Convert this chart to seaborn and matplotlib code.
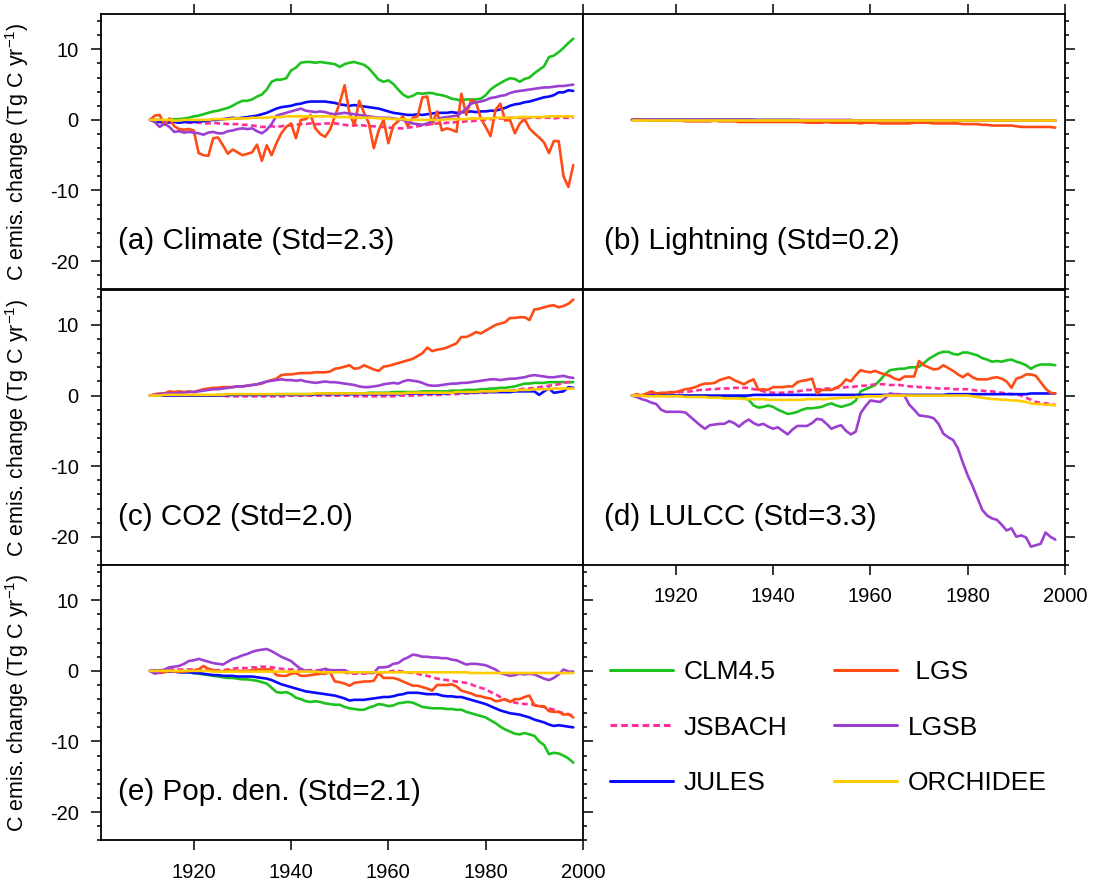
import numpy as np
import pandas as pd
import seaborn as sns
import matplotlib.pyplot as plt
from matplotlib.lines import Line2D
from matplotlib.ticker import MultipleLocator, NullLocator

# fire carbon emission change per driver, 1911-1998 (Tg C / yr)
years = list(range(1911, 1999))

models = ['CLM4.5', 'JSBACH', 'JULES', 'LGS', 'LGSB', 'ORCHIDEE']
legend_labels = ['CLM4.5', 'JSBACH', 'JULES', ' LGS', 'LGSB', 'ORCHIDEE']
colors = ['#1ec21e', '#ff2d9b', '#0a0aff', '#ff4b14', '#9c40d2', '#ffcc00']

titles = ['(a) Climate (Std=2.3)', '(b) Lightning (Std=0.2)', '(c) CO2 (Std=2.0)',
          '(d) LULCC (Std=3.3)', '(e) Pop. den. (Std=2.1)']

xticks = [1920, 1940, 1960, 1980, 2000]
yticks = [-20, -10, 0, 10]

# ---- (a) climate
clm_a = [0.0, 0.0, 0.0, -0.1, 0.0, 0.1, 0.1, 0.2, 0.3, 0.5,
         0.6, 0.8, 1.0, 1.2, 1.3, 1.5, 1.7, 2.0, 2.4, 2.7,
         2.7, 2.9, 3.3, 3.6, 4.3, 5.4, 5.7, 5.7, 5.9, 7.0,
         7.4, 8.1, 8.2, 8.2, 8.1, 8.2, 8.1, 8.0, 7.9, 7.5,
         7.9, 8.1, 8.2, 8.0, 7.8, 7.3, 6.5, 5.7, 5.4, 5.6,
         5.1, 4.3, 3.6, 3.2, 3.4, 3.8, 3.7, 3.8, 3.8, 3.6,
         3.5, 3.3, 3.0, 2.9, 2.7, 2.9, 2.9, 2.9, 3.0, 3.5,
         4.3, 4.8, 5.2, 5.6, 5.9, 5.8, 5.4, 5.8, 6.0, 6.6,
         7.1, 7.6, 8.9, 9.1, 9.6, 10.2, 10.9, 11.5]
jsbach_a = [0.0, -0.1, -0.2, -0.3, -0.4, -0.4, -0.4, -0.3, -0.4, -0.4,
            -0.4, -0.5, -0.5, -0.4, -0.5, -0.5, -0.6, -0.6, -0.6, -0.7,
            -0.7, -0.8, -0.9, -1.0, -1.0, -0.9, -1.0, -0.9, -0.8, -0.8,
            -0.7, -0.6, -0.6, -0.5, -0.6, -0.6, -0.5, -0.5, -0.5, -0.6,
            -0.7, -0.8, -0.8, -0.7, -0.8, -0.9, -0.9, -1.0, -1.0, -1.1,
            -1.1, -1.2, -1.2, -1.1, -1.0, -0.9, -0.8, -0.7, -0.6, -0.5,
            -0.5, -0.4, -0.4, -0.3, -0.3, -0.2, -0.2, -0.1, 0.0, 0.0,
            0.1, 0.1, 0.2, 0.2, 0.3, 0.3, 0.3, 0.2, 0.3, 0.3,
            0.3, 0.3, 0.3, 0.2, 0.3, 0.3, 0.3, 0.3]
jules_a = [0.0, -0.2, -0.3, -0.4, -0.3, -0.3, -0.4, -0.3, -0.3, -0.3,
           -0.2, -0.2, -0.1, 0.0, 0.0, 0.1, 0.2, 0.3, 0.2, 0.3,
           0.4, 0.5, 0.6, 0.8, 1.0, 1.3, 1.6, 1.8, 1.9, 2.0,
           2.2, 2.3, 2.5, 2.6, 2.6, 2.6, 2.6, 2.5, 2.4, 2.2,
           2.1, 2.0, 2.1, 2.0, 1.9, 1.8, 1.7, 1.6, 1.4, 1.2,
           1.0, 0.9, 0.8, 0.7, 0.7, 0.8, 0.7, 0.8, 0.9, 1.0,
           1.0, 1.0, 1.1, 1.0, 1.1, 1.1, 1.2, 1.1, 1.2, 1.2,
           1.3, 1.3, 1.5, 1.7, 2.0, 2.2, 2.3, 2.5, 2.6, 2.8,
           3.0, 3.2, 3.3, 3.5, 3.9, 3.9, 4.2, 4.1]
lgs_a = [0.0, 0.6, 0.7, -0.7, 0.2, -0.9, -1.3, -1.4, -1.3, -1.5,
         -4.7, -5.0, -5.1, -2.6, -2.5, -3.6, -4.8, -4.2, -4.6, -5.0,
         -4.8, -4.6, -3.5, -5.8, -3.6, -5.0, -3.3, -1.9, -1.0, -0.5,
         -2.6, 0.0, 0.1, 0.7, -1.2, -2.0, -2.4, -1.4, 0.5, 2.4,
         4.9, 1.0, -0.8, 2.7, 1.0, -0.5, -4.0, -1.5, 0.0, -3.3,
         -0.8, -0.2, 0.5, -0.9, 0.3, 0.5, 3.2, 3.3, -0.6, 1.2,
         -1.5, -1.2, -1.4, -1.7, 3.7, 0.7, 2.8, 2.5, 0.2, -1.0,
         -2.3, 1.4, 2.3, -0.1, 0.0, -1.9, -0.5, 0.1, -1.2, -1.9,
         -2.5, -3.2, -4.7, -3.0, -3.0, -8.0, -9.5, -6.4]
lgsb_a = [0.0, -0.3, -1.0, -0.5, -1.0, -1.7, -1.6, -1.8, -1.7, -1.8,
          -1.9, -2.1, -1.8, -1.7, -1.9, -1.9, -1.6, -1.5, -1.3, -1.2,
          -1.3, -1.2, -1.6, -1.9, -1.4, -0.6, 0.6, 0.8, 1.0, 1.2,
          1.4, 1.6, 1.3, 1.2, 1.1, 1.2, 1.1, 0.9, 0.8, 0.9,
          1.0, 0.9, 0.8, 0.7, 0.6, 0.5, 0.4, 0.3, 0.3, 0.3,
          0.2, 0.1, 0.0, -0.3, -0.5, -0.6, -0.7, -0.5, -0.2, 0.1,
          0.3, 0.4, 0.5, 0.6, 1.0, 1.6, 2.3, 2.5, 2.6, 2.8,
          3.1, 3.2, 3.4, 3.5, 3.8, 4.0, 4.1, 4.2, 4.3, 4.4,
          4.5, 4.6, 4.6, 4.7, 4.8, 4.8, 4.9, 5.0]
orch_a = [0.0, 0.0, 0.0, 0.0, 0.0, -0.1, -0.1, 0.0, 0.0, 0.0,
          0.0, 0.0, 0.0, 0.1, 0.1, 0.1, 0.1, 0.2, 0.2, 0.2,
          0.2, 0.3, 0.3, 0.3, 0.3, 0.4, 0.4, 0.4, 0.5, 0.5,
          0.5, 0.5, 0.5, 0.5, 0.5, 0.5, 0.5, 0.5, 0.4, 0.4,
          0.4, 0.4, 0.3, 0.3, 0.3, 0.3, 0.3, 0.2, 0.2, 0.2,
          0.1, 0.1, 0.1, 0.0, 0.0, 0.0, 0.0, 0.0, 0.0, 0.0,
          0.0, 0.1, 0.1, 0.1, 0.1, 0.1, 0.2, 0.2, 0.2, 0.2,
          0.2, 0.3, 0.3, 0.3, 0.3, 0.3, 0.4, 0.4, 0.4, 0.4,
          0.4, 0.4, 0.5, 0.5, 0.5, 0.5, 0.5, 0.5]

# ---- (b) lightning
clm_b = [0.0, 0.0, 0.0, 0.0, 0.0, 0.0, 0.0, 0.0, 0.0, 0.0,
         0.0, 0.0, 0.0, 0.0, 0.0, 0.0, 0.0, 0.0, 0.0, 0.0,
         0.0, 0.0, 0.0, 0.0, 0.0, 0.0, 0.0, 0.0, 0.0, 0.0,
         0.0, 0.0, 0.0, 0.0, 0.0, -0.1, -0.1, -0.1, -0.1, -0.1,
         -0.1, -0.1, -0.1, -0.1, -0.1, -0.1, -0.1, -0.1, -0.1, -0.1,
         -0.1, -0.1, -0.1, -0.1, -0.1, -0.1, -0.1, -0.1, -0.1, -0.1,
         -0.1, -0.1, -0.1, -0.1, -0.1, -0.1, -0.1, -0.1, -0.1, -0.1,
         -0.1, -0.1, -0.1, -0.1, -0.1, -0.1, -0.1, -0.1, -0.1, -0.1,
         -0.1, -0.1, -0.1, -0.1, -0.1, -0.1, -0.1, -0.1]
jsbach_b = [0.0, 0.0, 0.0, 0.0, 0.0, 0.0, 0.0, 0.0, 0.0, 0.0,
            0.0, 0.0, 0.0, 0.0, 0.0, 0.0, 0.0, 0.0, 0.0, 0.0,
            0.0, 0.0, 0.0, 0.0, 0.0, -0.1, -0.1, -0.1, -0.1, -0.1,
            -0.1, -0.1, -0.1, -0.1, -0.1, -0.1, -0.1, -0.1, -0.1, -0.1,
            -0.1, -0.1, -0.1, -0.1, -0.1, -0.1, -0.1, -0.1, -0.1, -0.1,
            -0.1, -0.1, -0.1, -0.1, -0.1, -0.1, -0.1, -0.1, -0.1, -0.1,
            -0.1, -0.1, -0.1, -0.1, -0.1, -0.1, -0.1, -0.1, -0.1, -0.1,
            -0.1, -0.1, -0.1, -0.1, -0.1, -0.1, -0.1, -0.1, -0.1, -0.1,
            -0.1, -0.1, -0.1, -0.1, -0.1, -0.1, -0.1, -0.1]
jules_b = [0.0, 0.0, 0.0, 0.0, 0.0, 0.0, 0.0, 0.0, 0.0, 0.0,
           0.0, 0.0, 0.0, 0.0, 0.0, 0.0, 0.0, 0.0, 0.0, 0.0,
           0.0, 0.0, 0.0, 0.0, 0.0, 0.0, -0.1, -0.1, -0.1, -0.1,
           -0.1, -0.1, -0.1, -0.1, -0.1, -0.1, -0.1, -0.1, -0.1, -0.1,
           -0.1, -0.1, -0.1, -0.1, -0.1, -0.1, -0.1, -0.1, -0.1, -0.1,
           -0.1, -0.1, -0.1, -0.1, -0.1, -0.1, -0.1, -0.1, -0.1, -0.1,
           -0.1, -0.1, -0.1, -0.1, -0.1, -0.1, -0.1, -0.1, -0.1, -0.1,
           -0.1, -0.1, -0.1, -0.1, -0.1, -0.1, -0.1, -0.1, -0.1, -0.1,
           -0.1, -0.1, -0.1, -0.1, -0.1, -0.1, -0.1, -0.1]
lgs_b = [0.0, 0.0, 0.0, 0.0, -0.1, -0.1, -0.1, -0.1, -0.1, -0.1,
         -0.1, -0.2, -0.2, -0.2, -0.2, -0.2, -0.2, -0.1, -0.2, -0.2,
         -0.2, -0.2, -0.3, -0.3, -0.3, -0.3, -0.3, -0.3, -0.3, -0.3,
         -0.3, -0.3, -0.3, -0.3, -0.3, -0.3, -0.4, -0.4, -0.4, -0.4,
         -0.3, -0.4, -0.4, -0.4, -0.4, -0.4, -0.4, -0.5, -0.4, -0.4,
         -0.4, -0.5, -0.5, -0.5, -0.5, -0.5, -0.5, -0.5, -0.4, -0.4,
         -0.4, -0.4, -0.5, -0.5, -0.5, -0.5, -0.5, -0.5, -0.6, -0.6,
         -0.6, -0.6, -0.7, -0.7, -0.8, -0.8, -0.8, -0.8, -0.8, -0.9,
         -1.0, -1.0, -1.0, -1.0, -1.0, -1.0, -1.0, -1.1]
lgsb_b = [0.0, 0.0, 0.0, 0.0, 0.0, 0.0, 0.0, 0.0, 0.0, 0.0,
          0.0, 0.0, 0.0, 0.0, 0.0, 0.0, 0.0, 0.0, 0.0, 0.0,
          0.0, 0.0, 0.0, 0.0, 0.0, 0.0, 0.0, 0.0, 0.0, 0.0,
          0.0, 0.0, 0.0, 0.0, 0.0, 0.0, 0.0, 0.0, 0.0, 0.0,
          0.0, 0.0, 0.0, 0.0, 0.0, 0.0, -0.1, -0.1, -0.1, -0.1,
          -0.1, -0.1, -0.1, -0.1, -0.1, -0.1, -0.1, -0.1, -0.1, -0.1,
          -0.1, -0.1, -0.1, -0.1, -0.1, -0.1, -0.1, -0.1, -0.1, -0.1,
          -0.1, -0.1, -0.1, -0.1, -0.1, -0.1, -0.1, -0.1, -0.1, -0.1,
          -0.1, -0.1, -0.1, -0.1, -0.1, -0.1, -0.1, -0.1]
orch_b = [0.0, 0.0, 0.0, 0.0, 0.0, 0.0, 0.0, 0.0, 0.0, 0.0,
          0.0, 0.0, 0.0, 0.0, 0.0, 0.0, 0.0, 0.0, 0.0, 0.0,
          0.0, 0.0, 0.0, 0.0, 0.0, 0.0, 0.0, 0.0, 0.0, 0.0,
          0.0, 0.0, 0.0, 0.0, 0.0, 0.0, 0.0, 0.0, 0.0, 0.0,
          0.0, 0.0, 0.0, 0.0, 0.0, 0.0, 0.0, 0.0, 0.0, 0.0,
          0.0, 0.0, 0.0, 0.0, 0.0, 0.0, 0.0, 0.0, 0.0, 0.0,
          0.0, 0.0, 0.0, 0.0, 0.0, 0.0, 0.0, 0.0, 0.0, 0.0,
          0.0, 0.0, 0.0, 0.0, 0.0, 0.0, 0.0, 0.0, 0.0, 0.0,
          0.0, 0.0, 0.0, 0.0, 0.0, 0.0, 0.0, 0.0]

# ---- (c) CO2
clm_c = [0.0, 0.0, 0.0, 0.0, 0.0, 0.0, 0.0, 0.0, 0.0, 0.0,
         0.0, 0.0, 0.0, 0.0, 0.1, 0.1, 0.1, 0.1, 0.1, 0.1,
         0.1, 0.1, 0.1, 0.1, 0.1, 0.1, 0.2, 0.2, 0.2, 0.2,
         0.2, 0.2, 0.2, 0.2, 0.2, 0.2, 0.3, 0.3, 0.3, 0.3,
         0.3, 0.3, 0.3, 0.3, 0.3, 0.4, 0.4, 0.4, 0.4, 0.4,
         0.5, 0.5, 0.5, 0.5, 0.5, 0.5, 0.6, 0.6, 0.6, 0.6,
         0.6, 0.6, 0.7, 0.7, 0.7, 0.8, 0.8, 0.8, 0.9, 0.9,
         1.0, 1.0, 1.1, 1.1, 1.2, 1.3, 1.5, 1.7, 1.7, 1.8,
         1.8, 1.8, 1.9, 1.9, 1.9, 1.9, 1.9, 1.9]
jsbach_c = [0.0, 0.0, 0.0, 0.0, 0.0, 0.0, 0.0, 0.0, 0.0, 0.0,
            0.0, 0.0, 0.0, 0.0, 0.0, 0.0, -0.1, -0.1, -0.1, -0.1,
            -0.1, -0.1, -0.1, -0.1, -0.1, -0.1, -0.1, -0.1, -0.1, 0.0,
            0.0, 0.0, 0.0, 0.0, 0.0, 0.0, 0.0, 0.0, 0.0, 0.0,
            0.0, 0.0, -0.1, -0.1, -0.1, -0.1, -0.1, -0.1, -0.1, -0.1,
            -0.1, 0.0, 0.0, 0.0, 0.0, 0.0, 0.1, 0.1, 0.1, 0.1,
            0.1, 0.2, 0.2, 0.2, 0.3, 0.3, 0.3, 0.4, 0.4, 0.4,
            0.5, 0.5, 0.6, 0.6, 0.7, 0.8, 0.9, 1.0, 1.0, 1.1,
            1.2, 1.3, 1.4, 1.5, 1.6, 1.8, 1.9, 2.0]
jules_c = [0.0, 0.0, 0.0, 0.0, 0.0, 0.0, 0.0, 0.0, 0.0, 0.0,
           0.0, 0.0, 0.0, 0.0, 0.0, 0.0, 0.1, 0.1, 0.1, 0.1,
           0.1, 0.1, 0.1, 0.1, 0.1, 0.1, 0.1, 0.1, 0.1, 0.1,
           0.1, 0.1, 0.1, 0.1, 0.2, 0.2, 0.2, 0.2, 0.2, 0.2,
           0.2, 0.2, 0.2, 0.2, 0.2, 0.2, 0.2, 0.2, 0.2, 0.2,
           0.2, 0.2, 0.3, 0.3, 0.3, 0.3, 0.3, 0.3, 0.3, 0.3,
           0.3, 0.3, 0.4, 0.4, 0.4, 0.4, 0.4, 0.4, 0.5, 0.5,
           0.5, 0.5, 0.5, 0.5, 0.5, 0.6, 0.6, 0.6, 0.6, 0.6,
           0.1, 0.6, 1.0, 0.4, 0.5, 0.6, 1.2, 1.1]
lgs_c = [0.0, 0.2, 0.3, 0.3, 0.6, 0.5, 0.6, 0.5, 0.6, 0.5,
         0.7, 0.9, 1.0, 1.1, 1.1, 1.2, 1.2, 1.2, 1.3, 1.3,
         1.4, 1.5, 1.6, 1.7, 2.0, 2.2, 2.4, 2.9, 3.0, 3.0,
         3.1, 3.2, 3.2, 3.2, 3.3, 3.3, 3.3, 3.4, 3.8, 3.9,
         4.1, 4.3, 3.8, 3.9, 4.3, 4.0, 3.7, 3.5, 4.1, 4.2,
         4.4, 4.6, 4.8, 5.0, 5.2, 5.6, 6.0, 6.8, 6.3, 6.5,
         6.6, 6.8, 7.1, 7.4, 8.3, 8.3, 8.6, 9.0, 8.8, 9.2,
         9.6, 10.0, 10.2, 10.4, 11.0, 11.0, 11.1, 11.1, 10.7, 12.2,
         12.3, 12.5, 12.7, 12.8, 12.5, 12.7, 13.0, 13.6]
lgsb_c = [0.0, 0.1, 0.2, 0.3, 0.3, 0.3, 0.4, 0.4, 0.5, 0.5,
          0.6, 0.7, 0.8, 0.9, 0.9, 1.0, 1.1, 1.2, 1.3, 1.3,
          1.4, 1.5, 1.6, 1.8, 2.0, 2.1, 2.2, 2.3, 2.2, 2.2,
          2.1, 2.2, 2.0, 1.9, 1.8, 1.9, 2.0, 1.9, 1.9, 1.8,
          1.7, 1.6, 1.5, 1.3, 1.2, 1.2, 1.3, 1.4, 1.6, 1.7,
          1.8, 1.7, 2.0, 2.2, 2.1, 2.0, 1.8, 1.5, 1.4, 1.4,
          1.5, 1.6, 1.7, 1.7, 1.8, 1.8, 1.9, 2.0, 2.1, 2.2,
          2.3, 2.3, 2.2, 2.3, 2.4, 2.4, 2.5, 2.6, 2.8, 2.9,
          2.8, 2.7, 2.6, 2.6, 2.7, 2.8, 2.6, 2.5]
orch_c = [0.0, 0.0, 0.0, 0.1, 0.1, 0.1, 0.1, 0.1, 0.1, 0.1,
          0.1, 0.1, 0.1, 0.1, 0.1, 0.1, 0.2, 0.2, 0.2, 0.2,
          0.2, 0.2, 0.2, 0.2, 0.2, 0.2, 0.2, 0.2, 0.2, 0.2,
          0.2, 0.2, 0.2, 0.2, 0.3, 0.3, 0.3, 0.3, 0.3, 0.3,
          0.3, 0.3, 0.3, 0.3, 0.3, 0.3, 0.3, 0.3, 0.3, 0.3,
          0.3, 0.3, 0.3, 0.4, 0.4, 0.4, 0.4, 0.4, 0.4, 0.4,
          0.4, 0.4, 0.4, 0.5, 0.5, 0.5, 0.5, 0.5, 0.6, 0.6,
          0.6, 0.6, 0.7, 0.7, 0.7, 0.7, 0.8, 0.8, 0.8, 0.9,
          0.9, 0.9, 0.9, 1.0, 1.0, 1.0, 1.0, 1.0]

# ---- (d) LULCC
clm_d = [0.0, 0.0, 0.0, 0.0, 0.0, 0.0, 0.0, 0.0, 0.0, 0.0,
         0.0, 0.0, 0.0, 0.0, 0.0, 0.0, -0.1, -0.1, -0.1, -0.1,
         -0.1, -0.1, -0.2, -0.3, -0.6, -1.4, -1.7, -1.6, -1.4, -1.6,
         -2.0, -2.3, -2.6, -2.5, -2.3, -2.0, -1.8, -1.8, -1.7, -1.6,
         -1.3, -1.1, -1.4, -1.6, -1.4, -1.2, -0.7, 0.6, 0.9, 1.2,
         1.5, 2.2, 3.0, 3.6, 3.7, 3.8, 3.8, 4.0, 4.0, 4.1,
         4.6, 5.2, 5.6, 6.0, 6.2, 6.2, 5.9, 5.8, 6.1, 6.1,
         5.9, 5.7, 5.3, 5.1, 4.8, 4.9, 4.8, 5.0, 5.1, 4.8,
         4.6, 4.3, 3.8, 4.2, 4.4, 4.4, 4.4, 4.3]
jsbach_d = [0.0, 0.0, 0.1, 0.1, 0.2, 0.2, 0.3, 0.3, 0.4, 0.4,
            0.5, 0.5, 0.6, 0.7, 0.8, 0.8, 0.9, 0.9, 1.0, 1.0,
            1.0, 1.1, 1.1, 1.1, 1.1, 0.9, 0.8, 0.6, 0.5, 0.4,
            0.4, 0.4, 0.5, 0.5, 0.6, 0.7, 0.8, 0.8, 0.9, 0.9,
            1.0, 1.0, 1.1, 1.1, 1.2, 1.2, 1.3, 1.4, 1.4, 1.5,
            1.6, 1.6, 1.6, 1.5, 1.5, 1.5, 1.4, 1.3, 1.3, 1.2,
            1.2, 1.1, 1.1, 1.0, 1.0, 1.0, 0.9, 0.9, 0.9, 0.9,
            0.8, 0.7, 0.7, 0.6, 0.6, 0.5, 0.4, 0.3, 0.2, 0.2,
            0.0, -0.3, -0.6, -0.9, -1.0, -1.1, -1.2, -1.3]
jules_d = [0.0, 0.0, 0.0, 0.0, 0.0, 0.0, 0.0, 0.0, 0.0, 0.0,
           0.0, 0.0, 0.0, 0.0, 0.0, 0.0, 0.0, 0.0, 0.0, 0.0,
           0.0, 0.0, 0.0, 0.0, 0.0, 0.1, 0.1, 0.1, 0.1, 0.1,
           0.1, 0.1, 0.1, 0.1, 0.1, 0.1, 0.1, 0.1, 0.1, 0.1,
           0.1, 0.1, 0.1, 0.1, 0.1, 0.1, 0.1, 0.1, 0.1, 0.1,
           0.1, 0.1, 0.1, 0.1, 0.1, 0.1, 0.1, 0.1, 0.1, 0.1,
           0.1, 0.1, 0.1, 0.1, 0.1, 0.2, 0.2, 0.2, 0.2, 0.2,
           0.2, 0.2, 0.2, 0.2, 0.2, 0.2, 0.2, 0.2, 0.2, 0.2,
           0.2, 0.2, 0.3, 0.3, 0.3, 0.3, 0.3, 0.3]
lgs_d = [0.0, 0.2, 0.0, 0.3, 0.6, 0.3, 0.4, 0.4, 0.5, 0.5,
         0.7, 0.9, 1.0, 1.2, 1.5, 1.7, 1.7, 1.8, 2.2, 2.4,
         2.6, 2.2, 1.9, 1.6, 2.0, 2.3, 0.8, 0.9, 0.8, 1.2,
         1.2, 1.2, 1.3, 1.3, 1.9, 2.1, 2.2, 2.4, 0.3, 0.8,
         0.8, 0.8, 1.1, 1.5, 2.3, 2.0, 2.9, 3.6, 3.4, 3.3,
         3.5, 3.2, 3.0, 2.8, 2.4, 2.2, 2.7, 2.7, 2.7, 4.9,
         4.3, 4.0, 3.7, 3.8, 4.3, 3.9, 3.5, 3.0, 2.6, 3.1,
         2.6, 2.3, 2.3, 2.3, 2.5, 2.6, 2.4, 2.0, 1.1, 2.4,
         2.6, 3.0, 3.0, 2.8, 1.9, 1.0, 0.4, 0.3]
lgsb_d = [0.0, -0.2, -0.5, -0.7, -1.0, -1.2, -2.0, -2.3, -2.3, -2.3,
          -2.3, -2.4, -3.0, -3.6, -4.2, -4.7, -4.2, -4.1, -4.0, -4.0,
          -3.6, -3.9, -4.4, -3.8, -3.4, -3.9, -4.2, -4.0, -4.4, -4.7,
          -4.5, -5.0, -5.5, -4.8, -4.3, -4.3, -4.3, -3.9, -3.3, -3.4,
          -4.0, -4.7, -4.4, -4.2, -5.0, -5.5, -5.1, -2.5, -1.5, -0.7,
          -0.8, -0.9, -0.4, 0.3, 0.2, 0.2, 0.0, -1.3, -2.0, -2.8,
          -2.9, -3.0, -3.2, -4.0, -5.4, -5.9, -6.3, -7.5, -9.5, -11.3,
          -12.8, -14.5, -16.2, -17.0, -17.4, -17.6, -18.3, -19.1, -18.8, -20.0,
          -19.8, -20.1, -21.4, -21.2, -21.0, -19.4, -20.0, -20.4]
orch_d = [0.0, 0.0, 0.0, -0.1, -0.1, -0.1, -0.1, -0.1, -0.1, -0.1,
          -0.1, -0.2, -0.2, -0.2, -0.2, -0.2, -0.3, -0.3, -0.3, -0.4,
          -0.4, -0.4, -0.4, -0.5, -0.5, -0.5, -0.5, -0.5, -0.6, -0.6,
          -0.6, -0.6, -0.6, -0.6, -0.6, -0.6, -0.5, -0.5, -0.5, -0.5,
          -0.5, -0.4, -0.4, -0.3, -0.3, -0.3, -0.2, -0.2, -0.1, -0.1,
          -0.1, -0.1, 0.0, 0.0, 0.0, 0.0, 0.0, 0.0, 0.0, 0.0,
          0.0, 0.0, 0.0, 0.0, 0.0, 0.0, 0.0, 0.0, 0.0, 0.0,
          -0.1, -0.2, -0.3, -0.4, -0.5, -0.5, -0.6, -0.6, -0.7, -0.7,
          -0.8, -0.9, -1.1, -1.2, -1.2, -1.3, -1.3, -1.4]

# ---- (e) population density
clm_e = [0.0, 0.0, 0.0, 0.0, 0.0, -0.1, -0.1, -0.2, -0.2, -0.3,
         -0.4, -0.5, -0.6, -0.7, -0.8, -0.9, -1.0, -1.0, -1.1, -1.2,
         -1.2, -1.3, -1.4, -1.6, -1.8, -2.4, -3.0, -3.1, -3.0, -3.3,
         -3.8, -4.0, -4.3, -4.4, -4.3, -4.4, -4.6, -4.7, -4.8, -4.8,
         -5.1, -5.3, -5.4, -5.5, -5.5, -5.2, -5.0, -4.7, -4.8, -5.0,
         -4.9, -4.6, -4.5, -4.4, -4.5, -4.8, -5.1, -5.2, -5.3, -5.3,
         -5.3, -5.4, -5.4, -5.5, -5.5, -5.8, -6.0, -6.2, -6.4, -6.6,
         -7.0, -7.4, -7.9, -8.3, -8.6, -8.9, -9.0, -8.8, -9.0, -9.2,
         -10.0, -10.5, -11.8, -11.6, -11.7, -12.0, -12.4, -13.0]
jsbach_e = [0.0, 0.1, 0.1, 0.1, 0.2, 0.2, 0.2, 0.2, 0.2, 0.2,
            0.2, 0.2, 0.1, 0.1, 0.1, 0.1, 0.2, 0.3, 0.4, 0.4,
            0.4, 0.5, 0.5, 0.6, 0.6, 0.5, 0.4, 0.3, 0.2, 0.2,
            0.2, 0.1, 0.1, 0.1, 0.1, 0.1, 0.0, 0.0, 0.0, 0.0,
            -0.2, -0.4, -0.4, -0.4, -0.4, -0.3, -0.2, -0.2, -0.2, -0.1,
            0.0, 0.0, -0.1, -0.2, -0.3, -0.4, -0.6, -0.7, -0.9, -1.1,
            -1.2, -1.3, -1.4, -1.5, -1.6, -1.7, -1.9, -2.2, -2.4, -2.6,
            -3.0, -3.3, -3.7, -4.1, -4.3, -4.5, -4.6, -4.7, -4.7, -4.8,
            -5.0, -5.1, -5.3, -5.5, -5.8, -6.0, -6.2, -6.3]
jules_e = [0.0, 0.0, 0.0, -0.1, -0.1, -0.1, -0.2, -0.2, -0.2, -0.3,
           -0.3, -0.4, -0.5, -0.6, -0.6, -0.7, -0.7, -0.7, -0.8, -0.8,
           -0.8, -0.8, -0.9, -1.0, -1.1, -1.3, -1.6, -1.9, -2.1, -2.3,
           -2.5, -2.7, -2.9, -3.0, -3.1, -3.2, -3.3, -3.4, -3.5, -3.7,
           -3.9, -4.2, -4.1, -4.1, -4.1, -4.0, -3.9, -3.8, -3.7, -3.7,
           -3.6, -3.4, -3.3, -3.1, -3.1, -3.1, -3.2, -3.3, -3.3, -3.3,
           -3.5, -3.6, -3.6, -3.7, -3.7, -3.9, -4.1, -4.3, -4.5, -4.7,
           -5.0, -5.3, -5.6, -5.8, -6.0, -6.1, -6.2, -6.4, -6.6, -6.9,
           -7.1, -7.3, -7.6, -7.8, -7.7, -7.8, -7.9, -8.0]
lgs_e = [0.0, -0.2, -0.3, -0.2, 0.0, -0.1, -0.1, -0.1, 0.0, 0.1,
         0.2, 0.7, 0.3, 0.1, 0.0, -0.1, 0.1, 0.0, 0.0, 0.0,
         0.0, 0.1, 0.2, 0.2, 0.2, 0.2, -0.6, -0.7, -0.7, -0.4,
         -0.3, -0.7, -0.7, -0.6, -0.5, -0.4, -0.4, -0.2, -1.5, -1.6,
         -1.8, -2.1, -1.7, -1.6, -1.5, -1.5, -1.4, -0.3, -1.0, -1.0,
         -1.0, -1.2, -1.5, -1.8, -2.1, -2.1, -2.3, -2.5, -2.8, -2.0,
         -2.0, -2.0, -1.9, -2.2, -2.8, -3.0, -3.2, -3.5, -3.6, -3.8,
         -3.9, -4.3, -4.2, -4.0, -4.4, -4.0, -4.0, -3.7, -3.5, -4.9,
         -5.0, -5.0, -5.7, -5.8, -5.8, -6.2, -6.1, -6.6]
lgsb_e = [0.0, -0.4, -0.2, 0.2, 0.5, 0.6, 0.7, 1.0, 1.4, 1.5,
          1.7, 1.5, 1.3, 1.1, 1.0, 0.9, 1.3, 1.7, 1.9, 2.2,
          2.4, 2.7, 2.9, 3.0, 3.1, 2.8, 2.4, 2.0, 1.7, 1.4,
          0.8, 0.3, 0.0, 0.0, -0.1, 0.1, 0.3, 0.1, 0.1, 0.1,
          0.1, -0.2, -0.3, -0.2, -0.2, -0.3, -0.3, 0.5, 0.5, 0.6,
          1.0, 1.1, 1.6, 1.9, 2.3, 2.2, 2.0, 2.0, 1.9, 1.9,
          1.8, 1.8, 1.6, 1.5, 1.2, 0.9, 1.0, 1.0, 0.9, 0.8,
          0.5, 0.2, -0.3, -0.5, -0.7, -0.6, -0.4, -0.5, -0.4, -0.5,
          -0.8, -1.1, -1.3, -1.0, -0.5, 0.2, -0.1, -0.1]
orch_e = [0.0, 0.0, 0.0, 0.0, 0.0, 0.0, 0.0, 0.0, 0.0, 0.0,
          0.0, 0.0, 0.0, -0.1, -0.1, -0.1, -0.1, -0.1, -0.1, -0.1,
          -0.1, -0.1, -0.1, -0.1, -0.1, -0.1, -0.1, -0.1, -0.1, -0.1,
          -0.1, -0.1, -0.1, -0.1, -0.1, -0.2, -0.2, -0.2, -0.2, -0.2,
          -0.2, -0.2, -0.2, -0.2, -0.2, -0.2, -0.2, -0.2, -0.2, -0.2,
          -0.2, -0.2, -0.2, -0.2, -0.2, -0.2, -0.2, -0.2, -0.2, -0.2,
          -0.2, -0.2, -0.2, -0.2, -0.2, -0.2, -0.3, -0.3, -0.3, -0.3,
          -0.3, -0.3, -0.3, -0.3, -0.3, -0.3, -0.3, -0.3, -0.3, -0.3,
          -0.3, -0.3, -0.3, -0.3, -0.3, -0.3, -0.3, -0.3]

panels = [
    [clm_a, jsbach_a, jules_a, lgs_a, lgsb_a, orch_a],
    [clm_b, jsbach_b, jules_b, lgs_b, lgsb_b, orch_b],
    [clm_c, jsbach_c, jules_c, lgs_c, lgsb_c, orch_c],
    [clm_d, jsbach_d, jules_d, lgs_d, lgsb_d, orch_d],
    [clm_e, jsbach_e, jules_e, lgs_e, lgsb_e, orch_e],
]

frames = []
for p, series in enumerate(panels):
    for m, vals in zip(models, series):
        frames.append(pd.DataFrame({'panel': p, 'model': m, 'year': years, 'value': vals}))
df = pd.concat(frames, ignore_index=True)

sns.set_theme(style='ticks')
plt.rcParams['font.family'] = ['Liberation Sans', 'DejaVu Sans']
plt.rcParams['mathtext.fontset'] = 'custom'
plt.rcParams['mathtext.rm'] = 'Liberation Sans'
plt.rcParams['mathtext.it'] = 'Liberation Sans'
plt.rcParams['axes.unicode_minus'] = False
for k in ['text.color', 'axes.labelcolor', 'xtick.color', 'ytick.color', 'axes.edgecolor']:
    plt.rcParams[k] = 'black'

palette = dict(zip(models, colors))
dash_map = {m: '' for m in models}
dash_map['JSBACH'] = (2.2, 1.3)

fig = plt.figure(figsize=(10.96, 8.9), dpi=100)
W = 1096.0
H = 890.0
left_x = 101.3 / W
right_x = 583.3 / W
aw = 481.7 / W
ah = 275.3 / H
bottoms = [1 - 289.3 / H, 1 - 565.0 / H, 1 - 840.3 / H]

# (col, row) of each panel
layout = [(0, 0), (1, 0), (0, 1), (1, 1), (0, 2)]

for p, (col, row) in enumerate(layout):
    x0 = left_x if col == 0 else right_x
    ax = fig.add_axes([x0, bottoms[row], aw, ah])
    sub = df[df.panel == p]
    sns.lineplot(data=sub, x='year', y='value', hue='model', style='model',
                 hue_order=models, style_order=models, palette=palette,
                 dashes=dash_map, linewidth=1.9, legend=False, ax=ax)
    ax.set_xlim(1901, 2000)
    ax.set_ylim(-24, 15)
    ax.set_xticks(xticks)
    ax.set_yticks(yticks)
    ax.xaxis.set_minor_locator(NullLocator())
    ax.yaxis.set_minor_locator(MultipleLocator(2))
    for s in ax.spines.values():
        s.set_visible(True)
        s.set_linewidth(1.3)
        s.set_color('black')
    ax.tick_params(which='both', direction='out', width=1.1, color='black',
                   labelcolor='black', labelsize=14.5, pad=9)
    ax.tick_params(which='major', length=7.2)
    ax.tick_params(which='minor', length=3.2)
    ax.set_xlabel('')
    ax.set_ylabel('')

    # x ticks: top row on top, bottom panels with labels, middle-left none
    if row == 0:
        ax.tick_params(axis='x', which='both', top=True, bottom=False,
                       labeltop=False, labelbottom=False)
    elif p == 2:
        ax.tick_params(axis='x', which='both', top=False, bottom=False,
                       labeltop=False, labelbottom=False)
    else:
        ax.tick_params(axis='x', which='both', top=False, bottom=True,
                       labeltop=False, labelbottom=True)

    if col == 0:
        ax.tick_params(axis='y', which='both', left=True, right=(p == 4),
                       labelleft=True, labelright=False)
        ax.set_ylabel('C emis. change (Tg C yr$^{-1}$)', fontsize=15.5,
                      color='black')
        ax.yaxis.set_label_coords(-0.145, 0.5)
        tx = 0.035
    else:
        ax.tick_params(axis='y', which='both', left=False, right=True,
                       labelleft=False, labelright=False)
        tx = 0.043

    ax.text(tx, 0.147, titles[p], transform=ax.transAxes, fontsize=21.3,
            va='baseline', ha='left', color='black')

handles = [Line2D([0], [0], color=c, lw=2.2,
                  linestyle=(0, (2.2, 1.3)) if m == 'JSBACH' else '-')
           for m, c in zip(models, colors)]
leg = fig.legend(handles, legend_labels, ncol=2, loc='upper left',
                 bbox_to_anchor=(610 / W, 1 - 660 / H), frameon=False,
                 fontsize=19, handlelength=2.4, handletextpad=0.4,
                 columnspacing=1.75, labelspacing=1.2, borderpad=0,
                 borderaxespad=0)
for t in leg.get_texts():
    t.set_color('black')

fig.savefig('out.png', dpi=100)
